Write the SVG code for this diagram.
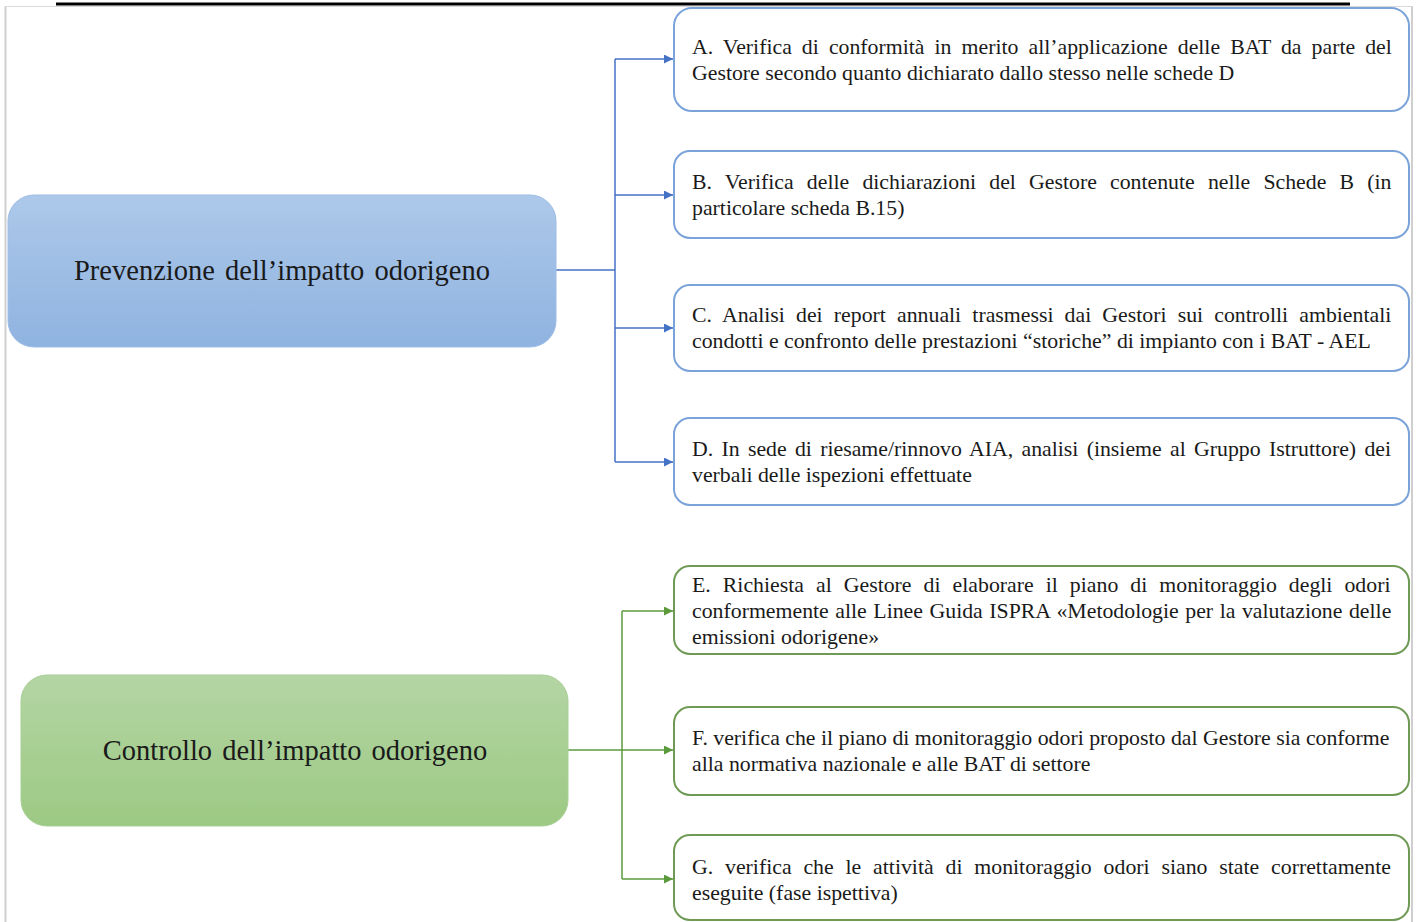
<svg xmlns="http://www.w3.org/2000/svg" width="1416" height="922" viewBox="0 0 1416 922">
<defs>
<linearGradient id="gBlue" x1="0" y1="0" x2="0" y2="1">
<stop offset="0" stop-color="#adc8e9"/><stop offset="1" stop-color="#8fb3e0"/>
</linearGradient>
<linearGradient id="gGreen" x1="0" y1="0" x2="0" y2="1">
<stop offset="0" stop-color="#b4d5a4"/><stop offset="1" stop-color="#9cc983"/>
</linearGradient>
<marker id="aBlue" viewBox="0 0 10 10" refX="10" refY="5" markerWidth="9" markerHeight="9" markerUnits="userSpaceOnUse" orient="auto">
<path d="M0,0 L10,5 L0,10 z" fill="#4472c4"/>
</marker>
<marker id="aGreen" viewBox="0 0 10 10" refX="10" refY="5" markerWidth="9" markerHeight="9" markerUnits="userSpaceOnUse" orient="auto">
<path d="M0,0 L10,5 L0,10 z" fill="#5b9a3c"/>
</marker>
</defs>
<style>
text{font-family:"Liberation Serif","Times New Roman",serif;fill:#1a1a1a}
.t{font-size:21.8px}
.m{font-size:28.5px;text-anchor:middle;word-spacing:3px}
.bb{fill:#ffffff;stroke:#7aa3d9;stroke-width:2}
.gb{fill:#ffffff;stroke:#6f9a55;stroke-width:2}
.cb{fill:none;stroke:#4472c4;stroke-width:1.5}
.cg{fill:none;stroke:#5b9a3c;stroke-width:1.5}
</style>
<rect width="1416" height="922" fill="#ffffff"/>
<g id="frame">
<line x1="5.5" y1="6" x2="5.5" y2="922" stroke="#cfcfcf" stroke-width="2"/>
<line x1="1412" y1="6" x2="1412" y2="922" stroke="#cfcfcf" stroke-width="2"/>
<line x1="5" y1="6.5" x2="1412" y2="6.5" stroke="#d9d9d9" stroke-width="1"/>
<line x1="56" y1="4" x2="1350" y2="4" stroke="#000000" stroke-width="3"/>
</g>
<g id="connectors">
<path class="cb" d="M556,270 H615"/>
<path class="cb" d="M615,59 V462"/>
<path class="cb" d="M615,59 H673" marker-end="url(#aBlue)"/>
<path class="cb" d="M615,195 H673" marker-end="url(#aBlue)"/>
<path class="cb" d="M615,328 H673" marker-end="url(#aBlue)"/>
<path class="cb" d="M615,462 H673" marker-end="url(#aBlue)"/>
<path class="cg" d="M568,750 H622"/>
<path class="cg" d="M622,611 V879"/>
<path class="cg" d="M622,611 H673" marker-end="url(#aGreen)"/>
<path class="cg" d="M622,750 H673" marker-end="url(#aGreen)"/>
<path class="cg" d="M622,879 H673" marker-end="url(#aGreen)"/>
</g>
<g id="prevenzione">
<rect x="8" y="195" width="548" height="152" rx="26" fill="url(#gBlue)" stroke="#9dbde6" stroke-width="1"/>
<text class="m" x="282" y="280">Prevenzione dell’impatto odorigeno</text>
</g>
<g id="controllo">
<rect x="21" y="675" width="547" height="151" rx="26" fill="url(#gGreen)" stroke="#a8cf95" stroke-width="1"/>
<text class="m" x="295" y="760">Controllo dell’impatto odorigeno</text>
</g>
<g id="boxA">
<rect class="bb" x="674" y="8" width="735" height="103" rx="18"/>
<text class="t" x="692" y="54" style="word-spacing:4.6px">A. Verifica di conformità in merito all’applicazione delle BAT da parte del</text>
<text class="t" x="692" y="80">Gestore secondo quanto dichiarato dallo stesso nelle schede D</text>
</g>
<g id="boxB">
<rect class="bb" x="674" y="151" width="735" height="87" rx="16"/>
<text class="t" x="692" y="189" style="word-spacing:7.7px">B. Verifica delle dichiarazioni del Gestore contenute nelle Schede B (in</text>
<text class="t" x="692" y="215">particolare scheda B.15)</text>
</g>
<g id="boxC">
<rect class="bb" x="674" y="285" width="735" height="86" rx="16"/>
<text class="t" x="692" y="322" style="word-spacing:5.7px">C. Analisi dei report annuali trasmessi dai Gestori sui controlli ambientali</text>
<text class="t" x="692" y="348">condotti e confronto delle prestazioni “storiche” di impianto con i BAT - AEL</text>
</g>
<g id="boxD">
<rect class="bb" x="674" y="418" width="735" height="87" rx="16"/>
<text class="t" x="692" y="456" style="word-spacing:2.85px">D. In sede di riesame/rinnovo AIA, analisi (insieme al Gruppo Istruttore) dei</text>
<text class="t" x="692" y="482">verbali delle ispezioni effettuate</text>
</g>
<g id="boxE">
<rect class="gb" x="674" y="566" width="735" height="88" rx="16"/>
<text class="t" x="692" y="592" style="word-spacing:6.6px">E. Richiesta al Gestore di elaborare il piano di monitoraggio degli odori</text>
<text class="t" x="692" y="618" style="word-spacing:1.1px">conformemente alle Linee Guida ISPRA «Metodologie per la valutazione delle</text>
<text class="t" x="692" y="644">emissioni odorigene»</text>
</g>
<g id="boxF">
<rect class="gb" x="674" y="707" width="735" height="88" rx="16"/>
<text class="t" x="692" y="745">F. verifica che il piano di monitoraggio odori proposto dal Gestore sia conforme</text>
<text class="t" x="692" y="771">alla normativa nazionale e alle BAT di settore</text>
</g>
<g id="boxG">
<rect class="gb" x="674" y="835" width="735" height="85" rx="16"/>
<text class="t" x="692" y="874" style="word-spacing:6.4px">G. verifica che le attività di monitoraggio odori siano state correttamente</text>
<text class="t" x="692" y="900">eseguite (fase ispettiva)</text>
</g>
</svg>
